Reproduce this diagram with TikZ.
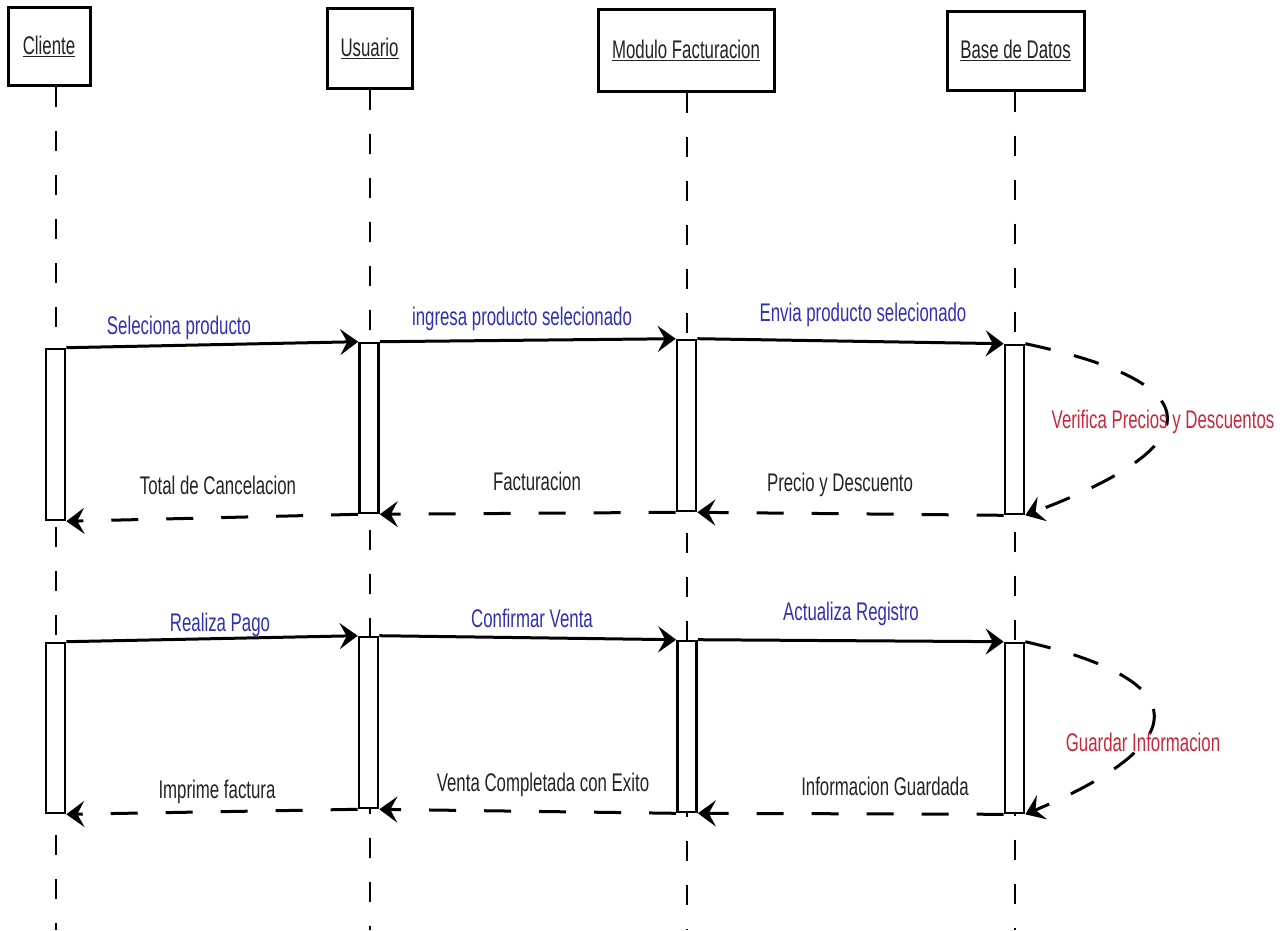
\documentclass[tikz,border=0pt]{standalone}
\usepackage{fontspec}
\setmainfont{Liberation Sans}[FakeStretch=0.66]
\usepackage{tikz}
\usetikzlibrary{arrows.meta}
\definecolor{msgblue}{RGB}{48,48,180}
\definecolor{notered}{RGB}{200,40,60}
\definecolor{txtgray}{RGB}{35,35,35}

\begin{document}
\begin{tikzpicture}[x=1pt, y=-1pt,
    every node/.style={font=\fontsize{25.5}{28}\selectfont},
    actor/.style={draw=black, line width=3pt, fill=white, text=txtgray,
        inner sep=0pt},
    activation/.style={draw=black, line width=2.6pt, fill=white,
        minimum width=19pt, inner sep=0pt},
    lifeline/.style={draw=black, line width=1.2pt,
        dash pattern=on 20pt off 24pt},
    call/.style={draw=black, line width=3pt,
        -{Stealth[length=18pt, width=26pt, inset=7pt]}},
    reply/.style={call, dash pattern=on 27pt off 28pt},
    selfcall/.style={call, dash pattern=on 26pt off 24pt},
    msg/.style={text=msgblue},
    ret/.style={text=txtgray},
    note/.style={text=notered}
]
\useasboundingbox (0,0) rectangle (1284,930);
% actors
\node[actor, minimum width=82pt, minimum height=78pt]
    (cliente) at (49,46) {\underline{Cliente}};
\node[actor, minimum width=85pt, minimum height=80pt]
    (usuario) at (369.5,48) {\underline{Usuario}};
\node[actor, minimum width=176pt, minimum height=82pt]
    (modulo) at (686,50) {\underline{Modulo Facturacion}};
\node[actor, minimum width=137pt, minimum height=79pt]
    (basedatos) at (1015.5,50.5) {\underline{Base de Datos}};
% lifelines
\coordinate (cl-end) at (56,930);
\coordinate (us-end) at (370,930);
\coordinate (mo-end) at (687,930);
\coordinate (bd-end) at (1015,930);
\draw[lifeline] (cliente.south -| cl-end) -- (cl-end);
\draw[lifeline] (usuario.south -| us-end) -- (us-end);
\draw[lifeline] (modulo.south -| mo-end) -- (mo-end);
\draw[lifeline] (basedatos.south -| bd-end) -- (bd-end);
% activations
\node[activation, minimum height=171pt] (c1) at (55.5,434.5) {};
\node[activation, minimum height=170pt] (u1) at (369,428) {};
\node[activation, minimum height=171pt] (m1) at (686.5,425.5) {};
\node[activation, minimum height=169pt] (b1) at (1014.5,429.5) {};
\node[activation, minimum height=170pt] (c2) at (55.5,728) {};
\node[activation, minimum height=171pt] (u2) at (368.5,722.5) {};
\node[activation, minimum height=171pt] (m2) at (687,726.5) {};
\node[activation, minimum height=170pt] (b2) at (1014.5,728) {};
% first exchange
\draw[call]  (c1.north east) -- (u1.north west);
\draw[call]  (u1.north east) -- (m1.north west);
\draw[call]  (m1.north east) -- (b1.north west);
\draw[selfcall] (b1.north east) .. controls +(190,40) and +(186,-70)
    .. (b1.south east);
\draw[reply] (b1.south west) -- (m1.south east);
\draw[reply] (m1.south west) -- (u1.south east);
\draw[reply] (u1.south west) -- (c1.south east);
\node[msg]  at (179,328)  {Seleciona producto};
\node[msg]  at (522,319)  {ingresa producto selecionado};
\node[msg]  at (863,315)  {Envia producto selecionado};
\node[note] at (1163,422) {Verifica Precios y Descuentos};
\node[ret]  at (218,485)  {Total de Cancelacion};
\node[ret]  at (537,481)  {Facturacion};
\node[ret]  at (840,485)  {Precio y Descuento};
% second exchange
\draw[call]  (c2.north east) -- (u2.north west);
\draw[call]  (u2.north east) -- (m2.north west);
\draw[call]  (m2.north east) -- (b2.north west);
\draw[selfcall] (b2.north east) .. controls +(175,40) and +(166,-70)
    .. (b2.south east);
\draw[reply] (b2.south west) -- (m2.south east);
\draw[reply] (m2.south west) -- (u2.south east);
\draw[reply] (u2.south west) -- (c2.south east);
\node[msg]  at (220,625)  {Realiza Pago};
\node[msg]  at (532,618)  {Confirmar Venta};
\node[msg]  at (851,614)  {Actualiza Registro};
\node[note] at (1143,742) {Guardar Informacion};
\node[ret]  at (217,792)  {Imprime factura};
\node[ret]  at (543,785)  {Venta Completada con Exito};
\node[ret]  at (885,786)  {Informacion Guardada};
\end{tikzpicture}
\end{document}
